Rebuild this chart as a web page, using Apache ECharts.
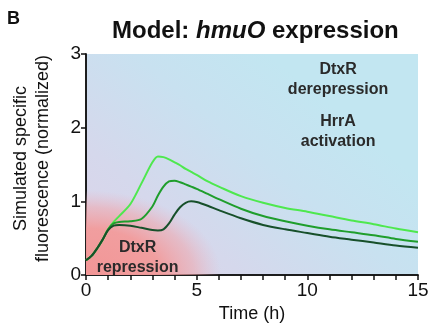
<!DOCTYPE html>
<html><head><meta charset="utf-8">
<script src="https://cdn.jsdelivr.net/npm/echarts@6/dist/echarts.min.js"></script>
<style>html,body{margin:0;padding:0;background:#fff}#c{width:429px;height:324px}</style>
</head><body><div id="c"></div>
<script>
var times = [0,0.25,0.5,0.75,1,1.25,1.5,2,2.5,3,3.25,3.5,3.75,4,4.25,4.5,4.75,5,5.5,6,7,8,9,10,11,12,13,14,15];
var lightGreen = [0.2,0.26,0.36,0.48,0.62,0.72,0.80,0.96,1.24,1.53,1.61,1.60,1.57,1.53,1.49,1.44,1.40,1.36,1.27,1.20,1.07,0.98,0.91,0.86,0.80,0.74,0.69,0.63,0.58];
var midGreen = [0.2,0.26,0.36,0.48,0.62,0.70,0.72,0.73,0.76,0.93,1.08,1.20,1.27,1.28,1.26,1.23,1.20,1.17,1.10,1.03,0.90,0.80,0.73,0.67,0.62,0.58,0.54,0.49,0.45];
var darkGreen = [0.2,0.26,0.36,0.48,0.61,0.67,0.68,0.67,0.64,0.61,0.605,0.62,0.70,0.82,0.92,0.98,1.0,0.99,0.94,0.88,0.77,0.68,0.62,0.57,0.52,0.48,0.44,0.40,0.37];
var xTicks = [0,5,10,15];
var yTicks = [0,1,2,3];
var annotations = [
  {text:'DtxR\nderepression', t:11.39, v:2.65},
  {text:'HrrA\nactivation', t:11.39, v:1.945},
  {text:'DtxR\nrepression', t:2.33, v:0.24}
];
var repressionExtent = {t:6.1, v:1.15};

function pairs(ys){ return times.map(function(t,i){return [t, ys[i]];}); }
var FF = "'Liberation Sans', Arial, sans-serif";
var chart = echarts.init(document.getElementById('c'));
var axisLine = {lineStyle:{color:'#111', width:1.5}};
var option = {
  animation:false,
  title:{
    text:'{a|Model: }{b|hmuO}{a| expression}',
    left:112, top:19, padding:0,
    textStyle:{rich:{
      a:{fontFamily:FF, fontWeight:'bold', fontSize:24, color:'#111'},
      b:{fontFamily:FF, fontWeight:'bold', fontStyle:'italic', fontSize:24, color:'#111'}
    }}
  },
  grid:{left:86, right:11, top:54, bottom:49, show:true, borderWidth:0,
    containLabel:false, outerBoundsMode:'none',
    backgroundColor:{type:'linear', x:0, y:1, x2:0.55, y2:0, colorStops:[
      {offset:0, color:'#ddd3e9'},{offset:0.35, color:'#d5d8ec'},{offset:0.7, color:'#c8e1f0'},{offset:1, color:'#c2e6f1'}]}},
  xAxis:[{
    type:'value', min:0, max:15, interval:5, position:'bottom',
    axisLine:axisLine,
    axisTick:{show:true, length:5, inside:false, lineStyle:{color:'#111', width:1.5}},
    minorTick:{show:true, splitNumber:5, length:5, lineStyle:{color:'#111', width:1.5}},
    splitLine:{show:false},
    axisLabel:{fontFamily:FF, fontSize:19, color:'#111', margin:6,
      formatter:function(v){return xTicks.indexOf(v)>=0 ? String(v) : '';}},
    name:'Time (h)', nameLocation:'middle', nameGap:26,
    nameTextStyle:{fontFamily:FF, fontSize:18, color:'#111'}
  },{
    type:'value', min:0, max:15, interval:5, position:'top',
    axisLine:axisLine,
    axisTick:{show:true, length:4, inside:true, lineStyle:{color:'#111', width:1.5}},
    minorTick:{show:true, splitNumber:5, length:4, lineStyle:{color:'#111', width:1.5}},
    splitLine:{show:false}, axisLabel:{show:false}
  }],
  yAxis:[{
    type:'value', min:0, max:3, interval:1, position:'left',
    axisLine:axisLine,
    axisTick:{show:true, length:5, inside:false, lineStyle:{color:'#111', width:1.5}},
    splitLine:{show:false},
    axisLabel:{fontFamily:FF, fontSize:19, color:'#111', margin:5,
      formatter:function(v){return yTicks.indexOf(v)>=0 ? String(v) : '';}},
    name:'Simulated specific\nfluorescence (normalized)', nameLocation:'middle', nameGap:32, nameRotate:90,
    nameTextStyle:{fontFamily:FF, fontSize:18, color:'#111', lineHeight:22, align:'center', padding:[0,0,0,12]}
  },{
    type:'value', min:0, max:3, interval:1, position:'right',
    axisLine:axisLine,
    axisTick:{show:true, length:4, inside:true, lineStyle:{color:'#111', width:1.5}},
    splitLine:{show:false}, axisLabel:{show:false}
  }],
  series:[
    {type:'line', name:'light', data:pairs(lightGreen), smooth:0.3, symbol:'none', z:5,
      lineStyle:{color:'#4ee84e', width:2}},
    {type:'line', name:'mid', data:pairs(midGreen), smooth:0.3, symbol:'none', z:5,
      lineStyle:{color:'#1f9e2c', width:2}},
    {type:'line', name:'dark', data:pairs(darkGreen), smooth:0.3, symbol:'none', z:5,
      lineStyle:{color:'#17502a', width:2}}
  ]
};
chart.setOption(option);

var o = chart.convertToPixel({gridIndex:0}, [0,0]);
var e = chart.convertToPixel({gridIndex:0}, [repressionExtent.t, repressionExtent.v]);
var rx = e[0]-o[0], ry = o[1]-e[1];
var gr = [{
  type:'rect', z:1, silent:true, x:o[0], y:o[1], scaleX: rx/ry,
  shape:{x:0, y:-ry, width:ry, height:ry},
  style:{fill:{type:'radial', x:0, y:1, r:1, colorStops:[
    {offset:0, color:'rgba(242,150,150,1)'},
    {offset:0.55, color:'rgba(242,155,155,0.95)'},
    {offset:0.8, color:'rgba(240,165,170,0.55)'},
    {offset:1, color:'rgba(235,180,195,0)'}]}}
},{
  type:'text', z:10, x:7, y:10, style:{text:'B', font:"bold 18px "+FF, fill:'#111'}
}];
annotations.forEach(function(a){
  var p = chart.convertToPixel({gridIndex:0}, [a.t, a.v]);
  gr.push({type:'text', z:10, x:p[0], y:p[1], silent:true,
    style:{text:a.text, font:"bold 16px "+FF, fill:'#2a2a2a', align:'center', verticalAlign:'middle', lineHeight:20}});
});
chart.setOption({graphic:gr});
</script></body></html>
